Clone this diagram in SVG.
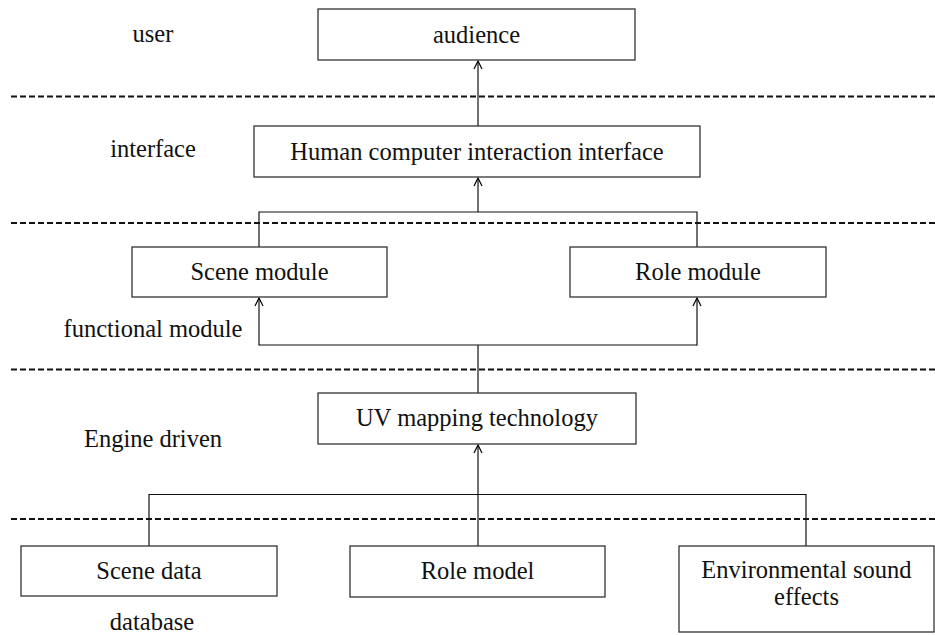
<svg xmlns="http://www.w3.org/2000/svg" width="935" height="635" viewBox="0 0 935 635">
<defs>
<marker id="arr" viewBox="0 0 10 10" refX="9" refY="5" markerWidth="10" markerHeight="10" markerUnits="userSpaceOnUse" orient="auto">
<path d="M1,1 L9,5 L1,9" fill="none" stroke="#000" stroke-width="1.2"/>
</marker>
<style>
.box{fill:#fff;stroke:#333;stroke-width:1.3}
.t{font-family:"Liberation Serif","Times New Roman",serif;font-size:24.5px;fill:#111;text-anchor:middle}
.dash{stroke:#111;stroke-width:2;stroke-dasharray:6 3;fill:none}
.c{stroke:#111;stroke-width:1.2;fill:none}
</style>
</defs>
<rect width="935" height="635" fill="#fff"/>
<g id="layers">
<line class="dash" x1="11" y1="96.5" x2="935" y2="96.5"/>
<line class="dash" x1="11" y1="223" x2="935" y2="223"/>
<line class="dash" x1="11" y1="369.5" x2="935" y2="369.5"/>
<line class="dash" x1="11" y1="519" x2="935" y2="519"/>
</g>
<g id="layer-labels">
<text class="t" x="153" y="42">user</text>
<text class="t" x="153" y="157">interface</text>
<text class="t" x="153" y="337">functional module</text>
<text class="t" x="153" y="447">Engine driven</text>
<text class="t" x="152" y="630">database</text>
</g>
<g id="connectors">
<line class="c" x1="478" y1="126" x2="478" y2="61" marker-end="url(#arr)"/>
<polyline class="c" points="259,247 259,212 697,212 697,247"/>
<line class="c" x1="478" y1="212" x2="478" y2="178" marker-end="url(#arr)"/>
<line class="c" x1="478" y1="393" x2="478" y2="345"/>
<line class="c" x1="259" y1="345" x2="697" y2="345"/>
<line class="c" x1="259" y1="345.6" x2="259" y2="298" marker-end="url(#arr)"/>
<line class="c" x1="697" y1="345.6" x2="697" y2="298" marker-end="url(#arr)"/>
<polyline class="c" points="149,546 149,494.5 806,494.5 806,546"/>
<line class="c" x1="478" y1="546" x2="478" y2="445" marker-end="url(#arr)"/>
</g>
<g id="audience">
<rect class="box" x="318" y="9" width="317" height="51"/>
<text class="t" x="476.5" y="43">audience</text>
</g>
<g id="hci">
<rect class="box" x="254" y="126" width="446" height="51"/>
<text class="t" x="477" y="160">Human computer interaction interface</text>
</g>
<g id="scene-module">
<rect class="box" x="132" y="247" width="255" height="50"/>
<text class="t" x="259.5" y="280">Scene module</text>
</g>
<g id="role-module">
<rect class="box" x="570" y="247" width="256" height="50"/>
<text class="t" x="698" y="280">Role module</text>
</g>
<g id="uv">
<rect class="box" x="318" y="393" width="318" height="51"/>
<text class="t" x="477" y="426">UV mapping technology</text>
</g>
<g id="scene-data">
<rect class="box" x="21" y="546" width="256" height="50"/>
<text class="t" x="149" y="579">Scene data</text>
</g>
<g id="role-model">
<rect class="box" x="350" y="546" width="255" height="51"/>
<text class="t" x="477.5" y="579">Role model</text>
</g>
<g id="env-sound">
<rect class="box" x="679" y="546" width="255" height="86"/>
<text class="t" x="806.5" y="578">Environmental sound</text>
<text class="t" x="806.5" y="605">effects</text>
</g>
</svg>
